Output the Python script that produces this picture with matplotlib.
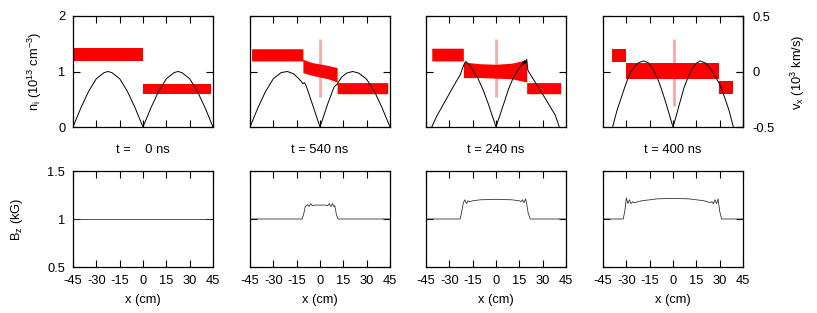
import matplotlib
matplotlib.use('Agg')
import matplotlib.pyplot as plt

plt.rcParams['font.family'] = ['Liberation Sans', 'DejaVu Sans']
plt.rcParams['mathtext.fontset'] = 'custom'
plt.rcParams['mathtext.rm'] = 'Liberation Sans'
plt.rcParams['mathtext.it'] = 'Liberation Sans:italic'
plt.rcParams['axes.unicode_minus'] = False
plt.rcParams['font.size'] = 9.3

### Data
times = ['t =    0 ns', 't = 540 ns', 't = 240 ns', 't = 400 ns']
xticks = [-45, -30, -15, 0, 15, 30, 45]

# black curves, top row
n0_x = [-45, -40, -35, -30, -25, -22.5, -20, -15, -10, -5, 0, 5, 10, 15, 20, 22.5, 25, 30, 35, 40, 45]
n0_y = [0, 0.34, 0.64, 0.87, 0.98, 1.0, 0.98, 0.87, 0.64, 0.34, 0, 0.34, 0.64, 0.87, 0.98, 1.0, 0.98, 0.87, 0.64, 0.34, 0]
n1_x = [-45, -40, -35, -30, -25, -21, -17, -14, -12, -11, -10, -9, -5, 0, 5, 9, 11, 12, 14, 17, 21, 25, 30, 35, 40, 45]
n1_y = [0, 0.34, 0.64, 0.87, 0.98, 1.0, 0.96, 0.88, 0.82, 0.78, 0.80, 0.75, 0.42, 0, 0.42, 0.72, 0.77, 0.82, 0.90, 0.97, 1.0, 0.97, 0.86, 0.64, 0.34, 0]
n2_x = [-41.3, -38, -34, -30, -26, -23, -21, -19.5, -17, -14, -12, -8, -5, -2, 0, 2, 5, 8, 11, 14, 16, 17, 17.5, 18, 18.5, 19, 19.7, 20.5, 24, 28, 32, 36, 38, 40.7]
n2_y = [0, 0.2, 0.4, 0.6, 0.8, 0.94, 1.1, 1.18, 1.12, 0.98, 0.9, 0.65, 0.42, 0.17, 0, 0.17, 0.42, 0.68, 0.88, 1.02, 1.1, 1.14, 1.18, 1.13, 1.2, 1.15, 1.22, 1.02, 0.86, 0.68, 0.5, 0.31, 0.22, 0]
n3_x = [-38.8, -36, -33, -31, -30.2, -28, -25, -22, -19, -16, -13, -10, -7, -4, -2, 0, 2, 4, 7, 10, 13, 15, 17.4, 21, 24, 27, 30.2, 33, 36, 38.8]
n3_y = [0, 0.3, 0.55, 0.72, 0.78, 0.95, 1.08, 1.16, 1.19, 1.16, 1.05, 0.88, 0.65, 0.38, 0.19, 0, 0.19, 0.4, 0.7, 0.92, 1.08, 1.15, 1.19, 1.15, 1.05, 0.92, 0.76, 0.55, 0.3, 0]

# red bands (lower / upper edge), top row
r0_x = [-44.4, 0, 0, 44]
r0_lo = [1.19, 1.19, 0.60, 0.60]
r0_hi = [1.42, 1.42, 0.78, 0.78]
r1_x = [-44, -11, -11, -5, 5, 11, 11, 43.5]
r1_lo = [1.19, 1.19, 0.98, 0.93, 0.87, 0.81, 0.60, 0.60]
r1_hi = [1.41, 1.41, 1.22, 1.16, 1.11, 1.07, 0.80, 0.80]
r2_x = [-41.3, -21, -21, -10, 0, 10, 19.7, 19.7, 41.6]
r2_lo = [1.19, 1.19, 0.89, 0.89, 0.88, 0.87, 0.81, 0.60, 0.60]
r2_hi = [1.42, 1.42, 1.17, 1.14, 1.13, 1.15, 1.21, 0.80, 0.80]
r3_x = [-39.4, -30.5, -30.5, 0, 29.8, 29.8, 38.8]
r3_lo = [1.17, 1.17, 0.87, 0.87, 0.87, 0.60, 0.60]
r3_hi = [1.40, 1.40, 1.15, 1.15, 1.15, 0.83, 0.83]

# scattered spike near x = 0 (x, bottom, top)
spike_x = [None, 0.0, 0.0, 0.7]
spike_lo = [None, 0.54, 0.54, 0.37]
spike_hi = [None, 1.58, 1.58, 1.59]

# B_z, bottom row
b0_x = [-45, 45]
b0_y = [1.0, 1.0]
b1_x = [-45, -11.5, -10.5, -9.5, -8, -7, -6, -5, -3, 0, 3, 5, 6, 7, 8, 9, 9.5, 10.5, 11.5, 45]
b1_y = [1.0, 1.0, 1.05, 1.13, 1.15, 1.13, 1.16, 1.14, 1.145, 1.145, 1.145, 1.14, 1.16, 1.13, 1.16, 1.13, 1.14, 1.05, 1.0, 1.0]
b2_x = [-45, -23, -22, -21, -20, -19, -18, -17, -15, -10, 0, 10, 15, 16, 17, 18, 19, 19.7, 20.7, 22, 45]
b2_y = [1.0, 1.0, 1.08, 1.17, 1.2, 1.16, 1.19, 1.18, 1.19, 1.2, 1.205, 1.2, 1.19, 1.18, 1.2, 1.17, 1.21, 1.16, 1.06, 1.0, 1.0]
b3_x = [-45, -32, -31, -30, -29, -28, -27, -26, -25, -20, -10, 0, 10, 20, 24, 25, 26, 27, 28, 29, 30, 31.3, 45]
b3_y = [1.0, 1.0, 1.08, 1.22, 1.16, 1.2, 1.16, 1.18, 1.17, 1.19, 1.21, 1.215, 1.21, 1.19, 1.17, 1.18, 1.16, 1.2, 1.16, 1.21, 1.08, 1.0, 1.0]

n_x = [n0_x, n1_x, n2_x, n3_x]
n_y = [n0_y, n1_y, n2_y, n3_y]
r_x = [r0_x, r1_x, r2_x, r3_x]
r_lo = [r0_lo, r1_lo, r2_lo, r3_lo]
r_hi = [r0_hi, r1_hi, r2_hi, r3_hi]
b_x = [b0_x, b1_x, b2_x, b3_x]
b_y = [b0_y, b1_y, b2_y, b3_y]

W, H = 817, 313
fig = plt.figure(figsize=(W / 100, H / 100), dpi=100)

lefts = [73, 250, 426, 603]
pw = 140

def style(ax):
    for s in ax.spines.values():
        s.set_linewidth(0.9)
    ax.tick_params(direction='in', top=True, right=True, length=5, width=0.8, pad=5.5)
    ax.set_xlim(-45, 45)
    ax.set_xticks(xticks)

for i in range(4):
    # top row
    ax = fig.add_axes([lefts[i] / W, 1 - 127 / H, pw / W, 111 / H])
    style(ax)
    ax.fill_between(r_x[i], r_lo[i], r_hi[i], color='red', lw=0)
    if spike_x[i] is not None:
        ax.vlines(spike_x[i], spike_lo[i], spike_hi[i], color='red', lw=2, alpha=0.35)
    ax.plot(n_x[i], n_y[i], color='black', lw=0.7)
    ax.set_ylim(0, 2)
    ax.set_yticks([0, 1, 2])
    ax.set_yticklabels(['0', '1', '2'])
    ax.tick_params(labelbottom=False, labelleft=(i == 0))
    ax.text(0.5, -0.207, times[i], transform=ax.transAxes, ha='center', va='center')
    if i == 3:
        sec = ax.secondary_yaxis('right', functions=(lambda n: (n - 1) / 2, lambda v: 2 * v + 1))
        sec.set_yticks([-0.5, 0, 0.5])
        sec.set_yticklabels(['-0.5', '0', '0.5'])
        sec.tick_params(direction='in', length=5, width=0.8, pad=7)
        sec.spines['right'].set_linewidth(0.9)

    # bottom row
    bx = fig.add_axes([lefts[i] / W, 1 - 267 / H, pw / W, 96 / H])
    style(bx)
    bx.plot(b_x[i], b_y[i], color='#333333', lw=0.6)
    bx.set_ylim(0.5, 1.5)
    bx.set_yticks([0.5, 1, 1.5])
    bx.set_yticklabels(['0.5', '1', '1.5'])
    bx.set_xticklabels([str(t) for t in xticks])
    bx.tick_params(labelleft=(i == 0))
    bx.text(0.5, (267 - 300) / 96, 'x (cm)', transform=bx.transAxes, ha='center', va='center')

fig.text(35 / W, 1 - 71 / H, r'n$_\mathrm{i}$ (10$^{13}$ cm$^{-3}$)', rotation=90, ha='center', va='center')
fig.text(17 / W, 1 - 219 / H, r'B$_\mathrm{z}$ (kG)', rotation=90, ha='center', va='center')
fig.text(798 / W, 1 - 72 / H, r'v$_\mathrm{x}$ (10$^3$ km/s)', rotation=90, ha='center', va='center')

fig.savefig('out.png', dpi=100)
